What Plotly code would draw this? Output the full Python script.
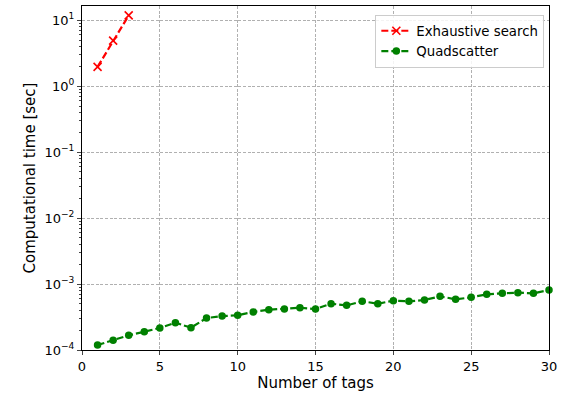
import plotly.graph_objects as go

tags_exh = [1, 2, 3]
time_exh = [1.96, 4.89, 11.8]

tags_quad = list(range(1, 31))
time_quad = [1.19e-4, 1.40e-4, 1.67e-4, 1.89e-4, 2.16e-4, 2.59e-4, 2.18e-4, 3.05e-4,
             3.27e-4, 3.36e-4, 3.77e-4, 4.08e-4, 4.18e-4, 4.37e-4, 4.18e-4, 5.04e-4,
             4.75e-4, 5.47e-4, 5.04e-4, 5.58e-4, 5.47e-4, 5.73e-4, 6.51e-4, 5.86e-4,
             6.28e-4, 6.98e-4, 7.23e-4, 7.39e-4, 7.23e-4, 8.11e-4]

ytick_vals = [1e-4, 1e-3, 1e-2, 1e-1, 1e0, 1e1]
ytick_text = ["10<sup>−4</sup>", "10<sup>−3</sup>", "10<sup>−2</sup>",
              "10<sup>−1</sup>", "10<sup>0</sup>", "10<sup>1</sup>"]
xtick_vals = [0, 5, 10, 15, 20, 25, 30]

fig = go.Figure()
fig.add_trace(go.Scatter(
    x=tags_exh, y=time_exh, mode="lines+markers", name="Exhaustive search",
    line=dict(color="red", width=2.2, dash="7px,3px"),
    marker=dict(symbol="x-thin", size=8, color="red", line=dict(color="red", width=1.6)),
))
fig.add_trace(go.Scatter(
    x=tags_quad, y=time_quad, mode="lines+markers", name="Quadscatter",
    line=dict(color="green", width=2.2, dash="7px,3px"),
    marker=dict(symbol="circle", size=7.5, color="green"),
    cliponaxis=False,
))

grid = dict(showgrid=True, gridcolor="#b0b0b0", griddash="3px,1.6px", gridwidth=0.8)
fig.update_layout(
    width=570, height=395,
    margin=dict(l=82, r=21, t=6, b=45),
    plot_bgcolor="white", paper_bgcolor="white",
    font=dict(family="DejaVu Sans", size=13, color="black"),
    xaxis=dict(
        range=[0, 30], tickvals=xtick_vals, ticks="outside", ticklen=4,
        showline=True, linecolor="black", linewidth=1, mirror=True, zeroline=False,
        title=dict(text="Number of tags", standoff=4, font=dict(size=15)), **grid,
    ),
    yaxis=dict(
        type="log", range=[-4, 1.215], tickvals=ytick_vals, ticktext=ytick_text,
        ticks="outside", ticklen=4,
        showline=True, linecolor="black", linewidth=1, mirror=True, zeroline=False,
        minor=dict(ticks="outside", ticklen=2, showgrid=False, dtick="D1"),
        title=dict(text="Computational time [sec]", standoff=5, font=dict(size=15)), **grid,
    ),
    legend=dict(
        x=0.99, y=0.975, xanchor="right", yanchor="top",
        bgcolor="rgba(255,255,255,0.85)", bordercolor="#cccccc", borderwidth=1,
        font=dict(size=13.3), tracegroupgap=0,
    ),
)
fig.write_html("out.html")
